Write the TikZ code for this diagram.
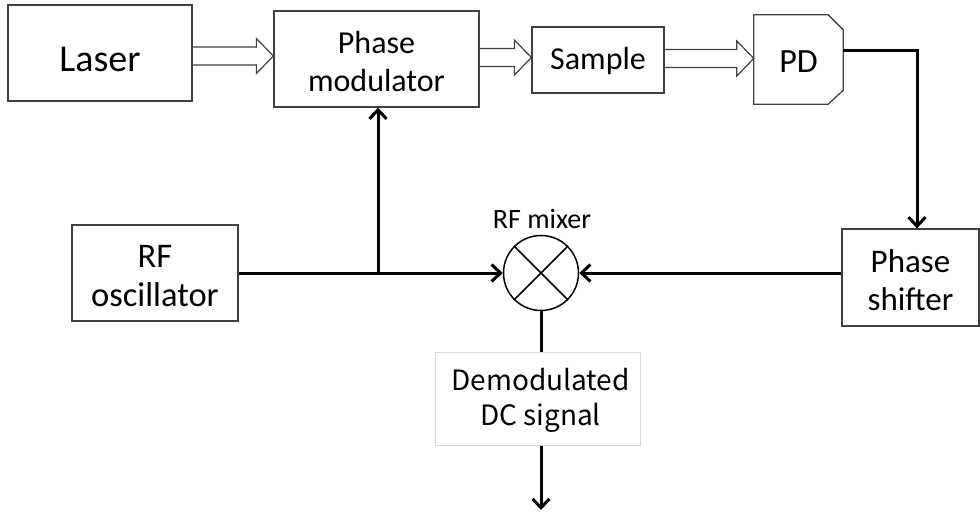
\documentclass[tikz,border=0pt]{standalone}
\usepackage{fontspec}
\setmainfont{Carlito}
\newfontfamily\jpfont{Noto Sans CJK JP}
\usetikzlibrary{arrows.meta,calc}
\definecolor{boxgray}{HTML}{404040}
\definecolor{lightbox}{HTML}{D9D9D9}
\newcommand\harrow[3]{%
  \draw[hollow] (#1.east |- 0,#3-9) -- ($(#2.west |- 0,#3-9)+(-17,0)$)
    -- ($(#2.west |- 0,#3)+(-17,-17.5)$) -- (#2.west |- 0,#3)
    -- ($(#2.west |- 0,#3)+(-17,17.5)$) -- ($(#2.west |- 0,#3+9)+(-17,0)$)
    -- (#1.east |- 0,#3+9);}
\begin{document}
\begin{tikzpicture}[x=1pt,y=-1pt,
  box/.style={draw=boxgray,line width=1.3pt,rectangle,inner sep=0pt},
  txt/.style={inner sep=0pt,align=center,font=\fontsize{32}{38}\selectfont},
  hollow/.style={draw=boxgray,line width=1.2pt,line join=miter},
  conn/.style={draw=black,line width=3pt},
  barb/.tip={Straight Barb[length=9pt,width=17pt]}]
\useasboundingbox (0,0) rectangle (980,513);
% boxes
\node[box,minimum width=184pt,minimum height=96pt] (laser) at (100,53) {};
\node[txt,font=\fontsize{38}{44}\selectfont] (laser-t) at ($(laser.center)+(0,6)$) {Laser};
\node[box,minimum width=205pt,minimum height=96pt] (pm) at (376.5,59) {};
\node[txt] (pm-t) at ($(pm.center)+(0,3)$) {Phase\\modulator};
\node[box,minimum width=132pt,minimum height=66pt] (sample) at (598,60) {};
\node[txt] (sample-t) at ($(sample.center)+(0,1)$) {Sample};
\node[inner sep=0pt,minimum width=89pt,minimum height=89pt] (pd) at (798.5,59.5) {};
\node[txt,font=\fontsize{34}{40}\selectfont] (pd-t) at ($(pd.center)+(0,2)$) {PD};
\draw[boxgray,line width=1.3pt] (pd.north west) -- ($(pd.north east)+(-15,0)$) -- ($(pd.north east)+(0,15)$)
  -- ($(pd.south east)+(0,-14)$) -- ($(pd.south east)+(-15,0)$) -- (pd.south west) -- cycle;
\node[box,minimum width=166pt,minimum height=96pt] (osc) at (155,273) {};
\node[txt,font=\fontsize{34.5}{39}\selectfont] (osc-t) at ($(osc.center)+(0,3)$) {RF\\oscillator};
\node[box,minimum width=137pt,minimum height=97pt] (shifter) at (910.5,277.5) {};
\node[txt,font=\fontsize{33}{38}\selectfont] (shifter-t) at ($(shifter.center)+(0,3)$) {Phase\\shifter};
\node[circle,draw,line width=1.5pt,minimum size=75pt,inner sep=0pt] (mix) at (541,273) {};
\draw[line width=1.5pt] (mix.north east) -- (mix.south west) (mix.north west) -- (mix.south east);
\node[txt,font=\fontsize{28}{32}\selectfont] (mixlbl) at (542,219) {RF mixer};
\node[draw=lightbox,fill=white,line width=1pt,minimum width=205pt,minimum height=93pt,inner sep=0pt] (demod) at (537.5,398.5) {};
\node[txt,font=\jpfont\fontsize{28}{35}\selectfont] (demod-t) at ($(demod.center)+(3,2)$) {Demodulated\\DC signal};
% hollow optical arrows
\harrow{laser}{pm}{56}
\harrow{pm}{sample}{57.5}
\harrow{sample}{pd}{58.5}
% electrical connections
\coordinate (br) at (378,273);
\coordinate (out) at (541,510);
\draw[conn,-barb] (osc.east) -- (mix.west);
\draw[conn,-barb] (br) -- (br |- pm.south);
\draw[conn,-barb] (shifter.west |- mix) -- (mix.east);
\draw[conn,-barb,line join=miter] (pd.east |- 0,51) -| ($(shifter.north)+(6.5,0)$);
\draw[conn] (mix.south) -- (mix.south |- demod.north);
\draw[conn,-barb] (demod.south -| out) -- (out);
\end{tikzpicture}
\end{document}
